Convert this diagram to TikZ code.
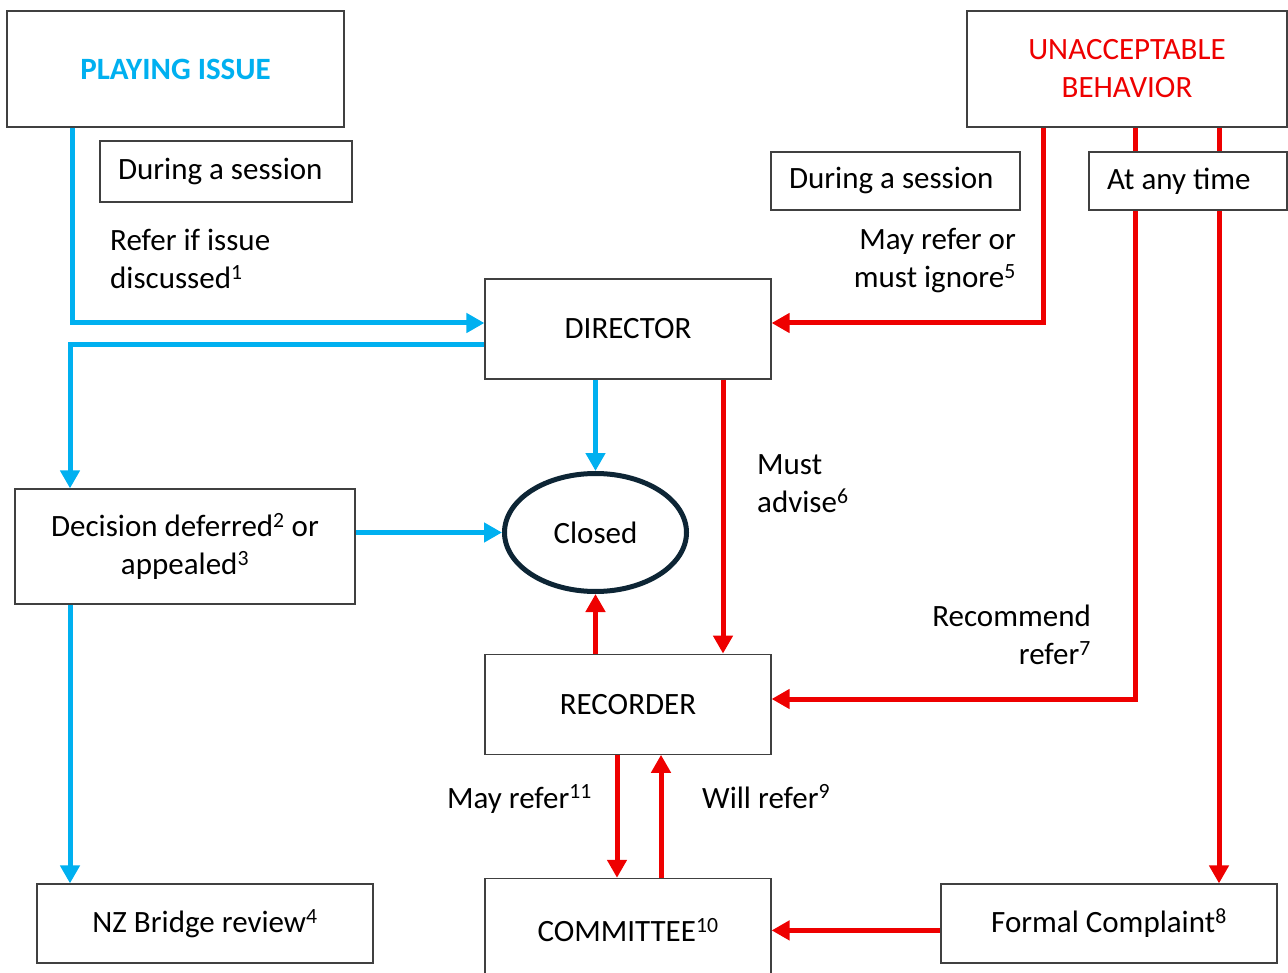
\documentclass[tikz,border=0pt]{standalone}
\usepackage{fontspec}
\setmainfont{Carlito}
\usepackage{xcolor}
\usepackage{tikz}
\usetikzlibrary{shapes.geometric, arrows.meta, positioning}

\definecolor{issueblue}{RGB}{0,176,240}
\definecolor{behavred}{RGB}{238,0,0}
\definecolor{closednavy}{RGB}{13,37,53}
\definecolor{framegray}{RGB}{64,64,64}

\newcommand{\tagtext}[2]{\makebox[#1][l]{#2}}

\begin{document}
\begin{tikzpicture}[
    x=1pt, y=-1pt,
    every node/.style = {font=\fontsize{31}{38}\selectfont, inner sep=0pt},
    box/.style = {rectangle, draw=framegray, line width=1.2pt, fill=white, align=center},
    tagbox/.style = {rectangle, draw=framegray, line width=1.2pt, fill=white, inner xsep=18pt, minimum height=58pt},
    closedring/.style = {ellipse, draw=closednavy, line width=5pt, fill=white, minimum width=182pt, minimum height=118pt},
    blueflow/.style = {issueblue, line width=5pt, -{Triangle[length=18pt, width=19pt]}},
    redflow/.style = {behavred, line width=5pt, -{Triangle[length=18pt, width=19pt]}},
    note/.style = {text=black}
]
    \useasboundingbox (0,0) rectangle (1288,973);

    % Nodes
    \node (playing) [box, minimum width=337pt, minimum height=116pt, text=issueblue, font=\fontsize{31}{38}\selectfont\bfseries] at (175.5,69) {PLAYING ISSUE};
    \node (sessionleft) [tagbox, minimum height=61pt] at (226,171.5) {\tagtext{216pt}{During a session}};
    \node (unacc) [box, minimum width=320pt, minimum height=116pt, text=behavred] at (1127,69) {UNACCEPTABLE\\BEHAVIOR};
    \node (sessionright) [tagbox] at (895.5,181) {\tagtext{213pt}{During a session}};
    \node (director) [box, minimum width=286pt, minimum height=100pt] at (628,329) {DIRECTOR};
    \node (closed) [closedring] at (595.5,532.5) {Closed};
    \node (decision) [box, minimum width=340pt, minimum height=115pt] at (185,546.5) {Decision deferred\textsuperscript{2} or\\appealed\textsuperscript{3}};
    \node (recorder) [box, minimum width=286pt, minimum height=100pt, below=274pt of director] {RECORDER};
    \node (committee) [box, minimum width=286pt, minimum height=104pt, below=123pt of recorder] {COMMITTEE\textsuperscript{10}};
    \node (review) [box, minimum width=336pt, minimum height=79pt] at (205,923.5) {NZ Bridge review\textsuperscript{4}};
    \node (formal) [box, minimum width=336pt, minimum height=79pt] at (1109,923.5) {Formal Complaint\textsuperscript{8}};

    % Labels
    \node (referlabel) [note, anchor=west, align=left] at (110,259) {Refer if issue\\discussed\textsuperscript{1}};
    \node (ignorelabel) [note, anchor=east, align=right] at (1016,261) {May refer or\\must ignore\textsuperscript{5}};
    \node (advicelabel) [note, anchor=west, align=left] at (757,484) {Must\\advise\textsuperscript{6}};
    \node (recommendlabel) [note, anchor=east, align=right] at (1091,635) {Recommend\\refer\textsuperscript{7}};
    \node (maylabel) [note, anchor=base east] at (592,808) {May refer\textsuperscript{11}};
    \node (willlabel) [note, anchor=base west] at (702,808) {Will refer\textsuperscript{9}};

    % Turning points
    \coordinate (playturn) at (72,323);
    \coordinate (backturn) at (70,345);
    \coordinate (reviewx) at (70,0);
    \coordinate (ignoreturn) at (1043,323);
    \coordinate (recturn) at (1135,699);
    \coordinate (complainx) at (1219,0);
    \coordinate (advisex) at (723,0);
    \coordinate (mayx) at (617,0);
    \coordinate (willx) at (661,0);

    % Arrows
    \draw [blueflow] (playing.south -| playturn) -- (playturn) -- (director.west |- playturn);
    \draw [blueflow] (director.west |- backturn) -- (backturn) -- (decision.north -| backturn);
    \draw [blueflow] (director.south -| closed.north) -- (closed.north);
    \draw [blueflow] (decision.east |- closed.west) -- (closed.west);
    \draw [blueflow] (decision.south -| reviewx) -- (review.north -| reviewx);

    \draw [redflow] (unacc.south -| ignoreturn) -- (ignoreturn) -- (director.east |- ignoreturn);
    \draw [redflow] (unacc.south -| recturn) -- (recturn) -- (recorder.east |- recturn);
    \draw [redflow] (unacc.south -| complainx) -- (formal.north -| complainx);
    \draw [redflow] (director.south -| advisex) -- (recorder.north -| advisex);
    \draw [redflow] (recorder.north -| closed.south) -- (closed.south);
    \draw [redflow] (recorder.south -| mayx) -- (committee.north -| mayx);
    \draw [redflow] (committee.north -| willx) -- (recorder.south -| willx);
    \draw [redflow] (formal.west |- committee.east) -- (committee.east);

    % drawn last so it sits over the red lines
    \node (anytime) [tagbox] at (1188,181) {\tagtext{162pt}{At any time}};

\end{tikzpicture}
\end{document}
